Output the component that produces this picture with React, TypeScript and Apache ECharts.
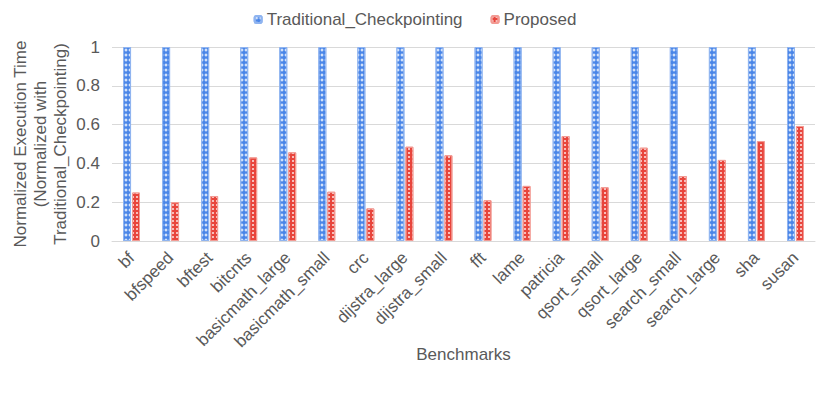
import React, { useEffect, useRef } from "react";
import * as echarts from "echarts";

const categories = [
  "bf", "bfspeed", "bftest", "bitcnts", "basicmath_large", "basicmath_small", "crc",
  "dijstra_large", "dijstra_small", "fft", "lame", "patricia", "qsort_small",
  "qsort_large", "search_small", "search_large", "sha", "susan",
];
const traditional = [1, 1, 1, 1, 1, 1, 1, 1, 1, 1, 1, 1, 1, 1, 1, 1, 1, 1];
const proposed = [
  0.25, 0.2, 0.232, 0.431, 0.457, 0.254, 0.168, 0.486, 0.442, 0.21, 0.284, 0.541,
  0.277, 0.481, 0.335, 0.418, 0.515, 0.593,
];
const yTicks = [0, 0.2, 0.4, 0.6, 0.8, 1];

export default function App() {
  const ref = useRef<HTMLDivElement>(null);
  useEffect(() => {
    if (!ref.current) return;
    const chart = echarts.init(ref.current, undefined, { renderer: "svg" });
    const font = "Liberation Sans, Arial, sans-serif";
    chart.setOption({
      animation: false,
      textStyle: { fontFamily: font },
      legend: {
        top: -2,
        left: "center",
        itemWidth: 7,
        itemHeight: 7,
        itemGap: 28,
        textStyle: { fontSize: 17, color: "#595959", fontFamily: font },
        data: ["Traditional_Checkpointing", "Proposed"],
      },
      grid: {
        left: 104,
        right: 7,
        top: 39,
        bottom: 146,
        containLabel: false,
        outerBoundsMode: "none",
      },
      xAxis: {
        type: "category",
        data: categories,
        name: "Benchmarks",
        nameLocation: "middle",
        nameGap: 105,
        nameMoveOverlap: false,
        nameTextStyle: { fontSize: 17, color: "#595959", fontFamily: font },
        axisLine: { lineStyle: { color: "#d9d9d9", width: 1 } },
        axisTick: { show: false },
        axisLabel: {
          rotate: 45,
          fontSize: 17,
          color: "#595959",
          fontFamily: font,
          interval: 0,
          margin: 14,
        },
      },
      yAxis: {
        type: "value",
        min: 0,
        max: 1,
        interval: 0.2,
        name: "Normalized Execution Time\n(Normalized with\nTraditional_Checkpointing)",
        nameLocation: "middle",
        nameRotate: 90,
        nameGap: 42,
        nameMoveOverlap: false,
        nameTextStyle: { fontSize: 17, color: "#595959", fontFamily: font, lineHeight: 20 },
        axisLine: { show: false },
        axisTick: { show: false },
        splitLine: { lineStyle: { color: "#d9d9d9", width: 1 } },
        axisLabel: {
          fontSize: 17,
          color: "#595959",
          fontFamily: font,
          margin: 12,
          formatter: (v: number) => (yTicks.includes(Math.round(v * 10) / 10) ? String(Math.round(v * 10) / 10) : ""),
        },
      },
      series: [
        {
          name: "Traditional_Checkpointing",
          type: "bar",
          data: traditional,
          barWidth: 8,
          barGap: "12%",
          itemStyle: {
            color: "#4a86e8",
            borderColor: "#8fb4f0",
            borderWidth: 1,
            decal: {
              symbol: "circle",
              symbolSize: 0.7,
              color: "rgba(255,255,255,0.75)",
              dashArrayX: [4, 0],
              dashArrayY: [4, 1],
              rotation: 0,
            },
          },
        },
        {
          name: "Proposed",
          type: "bar",
          data: proposed,
          barWidth: 8,
          itemStyle: {
            color: "#e8453c",
            borderColor: "#f29a93",
            borderWidth: 1,
            decal: {
              symbol: "rect",
              symbolSize: 1,
              color: "rgba(255,255,255,0.65)",
              dashArrayX: [[2, 2]],
              dashArrayY: [2, 2],
              rotation: 0,
            },
          },
        },
      ],
    });
    return () => chart.dispose();
  }, []);
  return <div ref={ref} style={{ width: 814, height: 379 }} />;
}
